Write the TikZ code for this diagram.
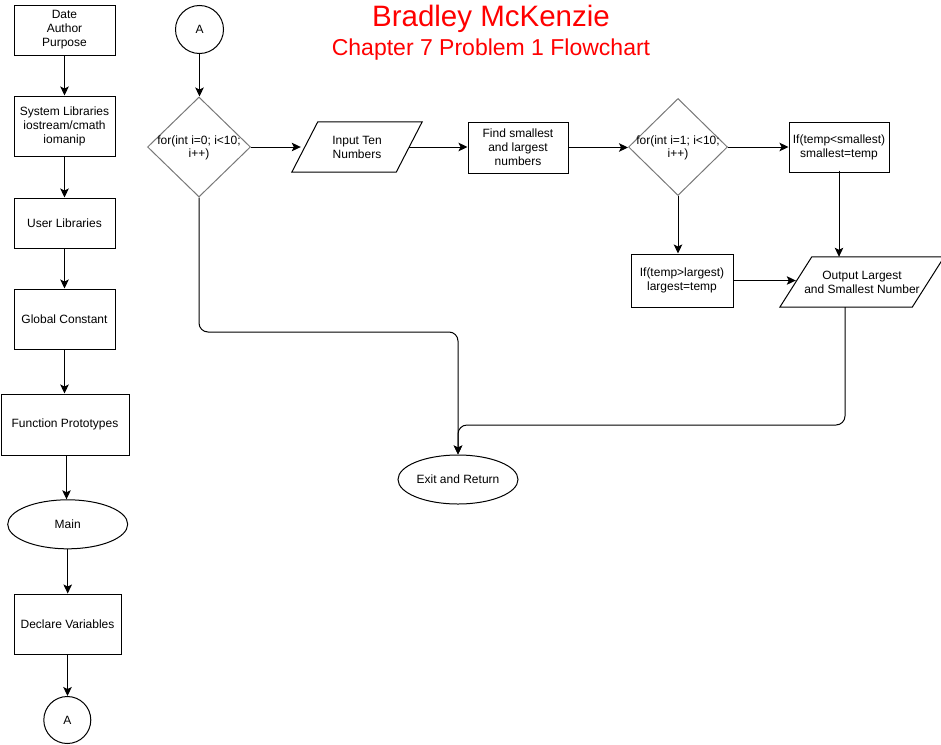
\documentclass[tikz,border=0pt]{standalone}
\usepackage{fontspec}
\setmainfont{Liberation Sans}
\usetikzlibrary{shapes.geometric,arrows.meta}
\definecolor{dgray}{RGB}{120,120,120}
\begin{document}
\begin{tikzpicture}[x=1pt,y=-1pt,
  every node/.style={font=\fontsize{12}{14}\selectfont, align=center, inner sep=0pt},
  box/.style={draw, line width=1pt, rectangle, minimum width=#1},
  boxh/.style={minimum height=#1},
  oval/.style={draw, line width=1pt, ellipse, minimum width=120, minimum height=49},
  conn/.style={draw, line width=1pt, circle, minimum size=#1},
  decision/.style={draw=dgray, line width=1pt, diamond},
  dtext/.style={font=\fontsize{12}{13}\selectfont},
  io/.style={rectangle, minimum width=#1, minimum height=50},
  ioline/.style={line width=1pt, line join=miter},
  arr/.style={line width=1pt, -{Stealth[length=9pt,width=8.5pt,inset=2pt]}},
  titlefont/.style={text=red, anchor=base}
]
\useasboundingbox (0,0) rectangle (941,744);

% title
\node[titlefont, font=\fontsize{29.5}{32}\selectfont] (title) at (491,26) {Bradley McKenzie};
\node[titlefont, font=\fontsize{23}{26}\selectfont] (sub) at (491,55.5) {Chapter 7 Problem 1 Flowchart};

% left column
\node[box=101, boxh=50] (date) at (64.5,30) {Date\\Author\\Purpose};
\node[box=101, boxh=60] (sys) at (64.5,126) {System Libraries\\iostream/cmath\\iomanip};
\node[box=101, boxh=50] (user) at (64.5,223) {User Libraries};
\node[box=101, boxh=60] (glob) at (64.5,319) {Global Constant};
\node[box=128, boxh=61] (func) at (65,424.5) {Function Prototypes};
\node[oval] (main) at (67.7,524.3) {Main};
\node[box=107, boxh=60] (decl) at (67.5,624) {Declare Variables};
\node[conn=47] (a2) at (67.3,720) {A};

% main flow
\node[conn=48] (a1) at (199.5,29.5) {A};
\node[decision, minimum width=103, minimum height=100] (d1) at (199,147) {};
\node[dtext] (d1t) at (199,147.5) {for(int i=0; i<10;\\i++)};
\node[io=104] (in) at (357,147) {Input Ten\\Numbers};
\draw[ioline] ([xshift=13]in.north west) -- ([xshift=13]in.north east)
  -- ([xshift=-13]in.south east) -- ([xshift=-13]in.south west) -- cycle;
\node[box=100, boxh=51] (find) at (518,147.5) {Find smallest\\and largest\\numbers};
\node[decision, minimum width=99, minimum height=97] (d2) at (678,147) {};
\node[dtext] (d2t) at (678,148) {for(int i=1; i<10;\\i++)};
\node[box=100, boxh=50] (if1) at (839,147) {If(temp<smallest)\\smallest=temp};
\node[box=102, boxh=53] (if2) at (682,280.5) {If(temp>largest)\\largest=temp};
\node[io=132] (out) at (862,282) {Output Largest\\and Smallest Number};
\draw[ioline] ([xshift=16]out.north west) -- ([xshift=16]out.north east)
  -- ([xshift=-16]out.south east) -- ([xshift=-16]out.south west) -- cycle;
\node[oval] (exit) at (458,479.5) {Exit and Return};

% left column connectors
\draw[arr] (date.south) -- (date.south |- sys.north);
\draw[arr] (sys.south) -- (sys.south |- user.north);
\draw[arr] (user.south) -- (user.south |- glob.north);
\draw[arr] (glob.south) -- (glob.south |- func.north);
\draw[arr] ([xshift=1.5]func.south) -- ([xshift=1.5]func.south |- main.north);
\draw[arr] (main.south) -- (main.south |- decl.north);
\draw[arr] (decl.south) -- (decl.south |- a2.north);

% main flow connectors
\draw[arr] (a1.south) -- (a1.south |- d1.north);
\draw[arr] (d1.east) -- ([xshift=-4]in.west);
\draw[arr] (in.east) -- (in.east -| find.west);
\draw[arr] (find.east) -- (find.east -| d2.west);
\draw[arr] (d2.east) -- (if1.west);
\draw[arr] ([yshift=2]if1.south) -- (if1.south |- out.north);
\draw[arr] (d2.south) -- (d2.south |- if2.north);
\draw[arr] (if2.east) -- (if2.east -| out.west);

\coordinate (j1) at (458,332);
\coordinate (j2) at (458,425);
\coordinate (ob) at ([xshift=-17]out.south);
\draw[arr, rounded corners=9pt] (d1.south) |- (j1) -- (exit.north);
\draw[arr, rounded corners=9pt] (ob) |- (j2) -- (exit.north);
\end{tikzpicture}
\end{document}
